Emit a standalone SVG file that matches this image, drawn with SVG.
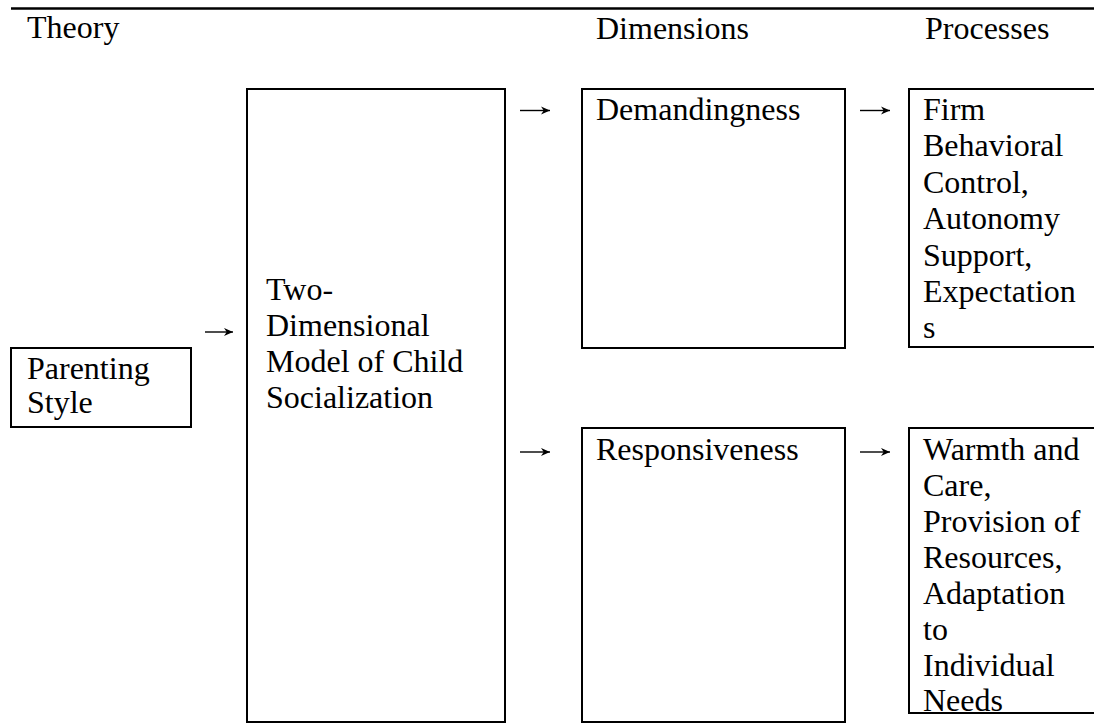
<svg xmlns="http://www.w3.org/2000/svg" width="1094" height="723" viewBox="0 0 1094 723">
<style>
.box { fill: #fff; stroke: #000; stroke-width: 2; }
.conn { fill: none; stroke: #000; stroke-width: 1.4; marker-end: url(#ah); }
</style>
<defs>
<marker id="ah" viewBox="0 0 10 10" refX="10" refY="5" markerWidth="9" markerHeight="9" markerUnits="userSpaceOnUse" orient="auto">
<path d="M0,0.5 L10,5 L0,9.5 L3,5 Z" fill="#000"/>
</marker>
</defs>
<rect x="0" y="0" width="1094" height="723" fill="#fff"/>
<line x1="11" y1="8.5" x2="1094" y2="8.5" stroke="#000" stroke-width="2.5"/>
<g font-family="Times New Roman, Liberation Serif, Tinos, serif" font-size="32" fill="#000">
<g id="headers">
<text x="27" y="38">Theory</text>
<text x="596" y="39">Dimensions</text>
<text x="925" y="39">Processes</text>
</g>
<g id="node-parenting">
<rect class="box" x="11" y="348" width="180" height="79"/>
<text x="27" y="379">Parenting</text>
<text x="27" y="413">Style</text>
</g>
<g id="node-model">
<rect class="box" x="247" y="89" width="258" height="633"/>
<text x="266" y="300">Two-</text>
<text x="266" y="336">Dimensional</text>
<text x="266" y="372">Model of Child</text>
<text x="266" y="408">Socialization</text>
</g>
<g id="node-demandingness">
<rect class="box" x="582" y="89" width="263" height="259"/>
<text x="596" y="119.5">Demandingness</text>
</g>
<g id="node-responsiveness">
<rect class="box" x="582" y="428" width="263" height="294"/>
<text x="596" y="460">Responsiveness</text>
</g>
<g id="node-processes-1">
<rect class="box" x="909" y="89" width="200" height="258"/>
<text x="923" y="119.5">Firm</text>
<text x="923" y="156">Behavioral</text>
<text x="923" y="192.5">Control,</text>
<text x="923" y="229">Autonomy</text>
<text x="923" y="265.5">Support,</text>
<text x="923" y="302">Expectation</text>
<text x="923" y="338">s</text>
</g>
<g id="node-processes-2">
<rect class="box" x="909" y="428" width="200" height="285"/>
<text x="923" y="460">Warmth and</text>
<text x="923" y="496">Care,</text>
<text x="923" y="532">Provision of</text>
<text x="923" y="568">Resources,</text>
<text x="923" y="604">Adaptation</text>
<text x="923" y="640">to</text>
<text x="923" y="676">Individual</text>
<text x="923" y="711">Needs</text>
</g>
</g>
<g id="connectors">
<path class="conn" d="M205,332 H233"/>
<path class="conn" d="M520,110.5 H550"/>
<path class="conn" d="M860,110.5 H890"/>
<path class="conn" d="M520,452 H550"/>
<path class="conn" d="M860,452 H890"/>
</g>
</svg>
